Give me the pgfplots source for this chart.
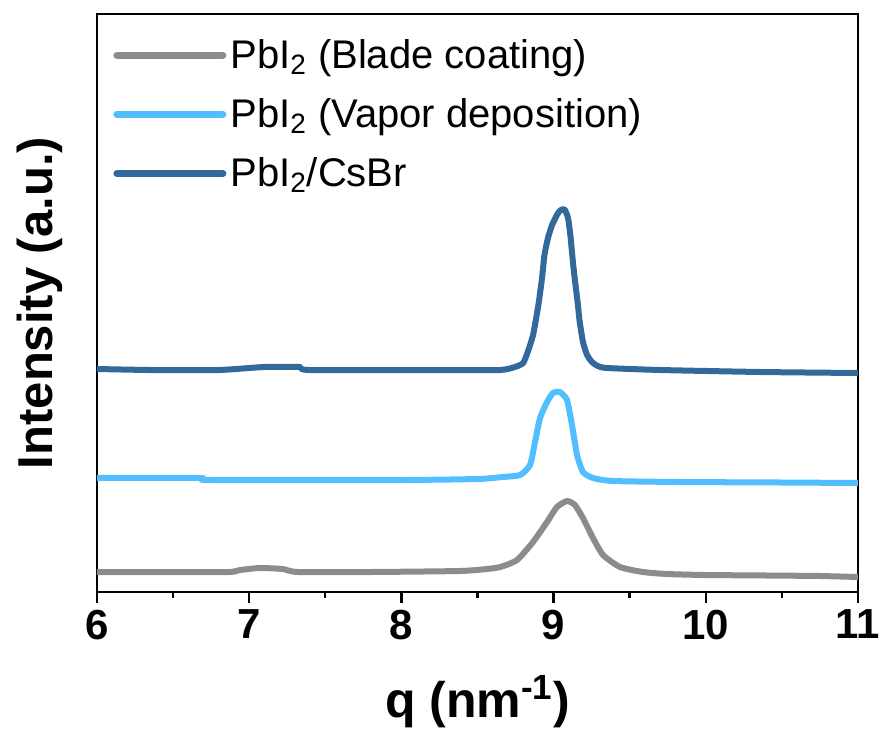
\documentclass[border=0pt]{standalone}
\usepackage{pgfplots}
\pgfplotsset{compat=1.18}
\usepackage{fontspec}
\setmainfont{Liberation Sans}
\definecolor{cgray}{RGB}{140,140,140}
\definecolor{clight}{RGB}{80,190,255}
\definecolor{cdark}{RGB}{50,105,155}
\begin{document}
\begin{tikzpicture}
\useasboundingbox (-48.5pt,-71pt) rectangle (392.5pt,296pt);
\begin{axis}[
  at={(0,0)}, anchor=south west,
  width=380.5pt, height=289pt, scale only axis,
  xmin=6, xmax=11, ymin=0, ymax=578,
  xtick={6,7,8,9,10,11}, minor x tick num=1,
  ytick=\empty,
  xtick pos=left,
  tick align=outside,
  major tick length=5.5pt, minor tick length=3pt,
  every tick/.style={black, line width=1.2pt},
  axis line style={line width=1.3pt},
  /pgf/number format/assume math mode=true,
  xticklabel style={font=\fontsize{21}{25}\selectfont\bfseries},
  xlabel={q (nm\textsuperscript{-1})},
  ylabel={Intensity (a.u.)},
  xlabel style={font=\fontsize{25}{30}\selectfont\bfseries, at={(axis description cs:0.5,0)}, anchor=base, yshift=-62.7pt},
  ylabel style={font=\fontsize{24.5}{29}\selectfont\bfseries, at={(axis description cs:-0.0591,0.5)}, anchor=base},
  legend cell align=left,
  legend style={draw=none, fill=none, at={(axis description cs:0.021,0.964)}, anchor=north west,
    font=\fontsize{20}{24}\selectfont, row sep=9.6pt, inner xsep=0pt, inner ysep=0pt,
    nodes={inner sep=2pt}},
  legend image code/.code={\draw[#1, line width=3.5pt, line cap=round] (0pt,0pt) -- (53pt,0pt);},
  every axis plot/.append style={line width=3pt, line join=round, smooth, tension=0.35},
]
\addplot[cgray] coordinates {
(6.00,20) (6.50,20) (6.87,20) (6.94,22) (7.07,24) (7.22,23) (7.32,20) (7.80,20) (8.385,21) (8.56,23) (8.65,25)
(8.76,32) (8.865,50) (8.957,70) (9.022,85) (9.088,91) (9.14,87) (9.193,74) (9.259,54) (9.325,37)
(9.436,25) (9.587,20) (9.745,18) (9.99,17) (10.4,16.5) (10.75,16) (11.0,15)
};
\addlegendentry{PbI\textsubscript{2} (Blade coating)}
\addplot[clight] coordinates {
(6.00,114) (6.68,114) (6.74,112) (7.99,112) (8.50,113) (8.667,115) (8.78,117) (8.845,127) (8.878,150)
(8.911,174) (8.957,190) (8.996,199) (9.042,200) (9.088,192) (9.121,167) (9.154,137) (9.193,120)
(9.259,114) (9.39,111) (9.83,110) (10.5,109.5) (11.0,109)
};
\addlegendentry{PbI\textsubscript{2} (Vapor deposition)}
\addplot[cdark] coordinates {
(6.00,223) (6.35,222) (6.80,222) (7.10,225) (7.33,225) (7.40,222) (8.32,222) (8.65,222) (8.746,225)
(8.80,229) (8.83,240) (8.865,257) (8.90,287) (8.924,314) (8.94,337) (8.963,354) (8.99,367) (9.022,377)
(9.04,381) (9.062,383) (9.075,382) (9.095,374) (9.11,357) (9.127,330) (9.14,312) (9.160,287) (9.17,272)
(9.193,250) (9.22,237) (9.252,230) (9.29,226) (9.351,224) (9.70,222) (10.36,220) (11.0,219)
};
\addlegendentry{PbI\textsubscript{2}/CsBr}
\end{axis}
\end{tikzpicture}
\end{document}
